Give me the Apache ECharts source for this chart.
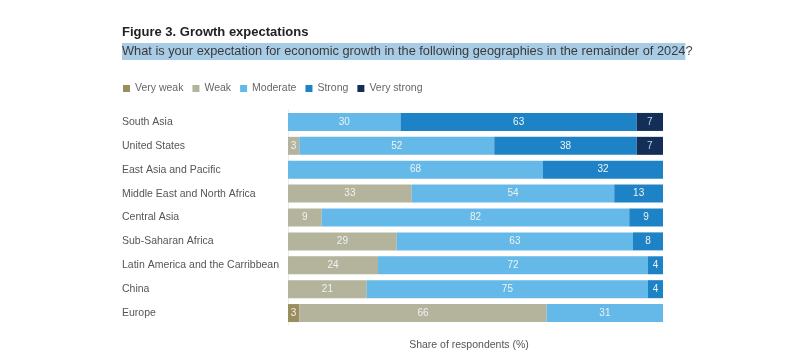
<!DOCTYPE html>
<html>
<head>
<meta charset="utf-8">
<script src="https://cdn.jsdelivr.net/npm/echarts@6/dist/echarts.min.js"></script>
<style>html,body{margin:0;padding:0;background:#fff;}#c{width:793px;height:356px;}</style>
</head>
<body>
<div id="c"></div>
<script>
const categories = ['South Asia','United States','East Asia and Pacific','Middle East and North Africa','Central Asia','Sub-Saharan Africa','Latin America and the Carribbean','China','Europe'];
const seriesNames = ['Very weak','Weak','Moderate','Strong','Very strong'];
const veryWeak = [0,0,0,0,0,0,0,0,3];
const weak = [0,3,0,33,9,29,24,21,66];
const moderate = [30,52,68,54,82,63,72,75,31];
const strong = [63,38,32,13,9,8,4,4,0];
const veryStrong = [7,7,0,0,0,0,0,0,0];
const colors = ['#9a8f5c','#b4b39c','#64b9e8','#1e83c6','#142f57'];

const values = [veryWeak, weak, moderate, strong, veryStrong];
const font = 'Liberation Sans, Arial, Helvetica, sans-serif';
const chart = echarts.init(document.getElementById('c'));
chart.setOption({
  animation: false,
  textStyle: {fontFamily: font},
  title: {
    left: 117, top: 21,
    text: 'Figure 3. Growth expectations',
    textStyle: {fontSize: 13, fontWeight: 'bold', color: '#222', fontFamily: font},
    subtext: '{h|What is your expectation for economic growth in the following geographies in the remainder of 2024}?',
    itemGap: 4,
    subtextStyle: {
      fontSize: 12.8, color: '#444', fontFamily: font,
      rich: {h: {backgroundColor: '#a8cce6', fontSize: 12.8, color: '#3a3a3a', padding: [2, 0, 2, 0], fontFamily: font}}
    }
  },
  legend: {
    left: 118, top: 78,
    itemWidth: 7, itemHeight: 7, itemGap: 9,
    icon: 'rect',
    textStyle: {fontSize: 10.5, color: '#666', fontFamily: font, padding: [1,0,0,0]},
    data: seriesNames
  },
  grid: {left: 288, right: 130, top: 110, height: 221, containLabel: false},
  xAxis: {
    type: 'value', min: 0, max: 100,
    axisLabel: {show: false}, splitLine: {show: false}, axisTick: {show: false}, axisLine: {show: false},
    name: 'Share of respondents (%)', nameLocation: 'middle', nameGap: 15,
    nameTextStyle: {fontSize: 10.5, color: '#555', padding: [0, 13, 0, 0], fontFamily: font}
  },
  yAxis: {
    type: 'category', data: categories, inverse: true,
    axisTick: {show: false},
    axisLine: {show: true, lineStyle: {color: '#ececec', width: 1}},
    axisLabel: {align: 'left', margin: 166, fontSize: 10.5, color: '#555', fontFamily: font}
  },
  series: seriesNames.map((n, i) => ({
    name: n, type: 'bar', stack: 'total', barWidth: 18,
    itemStyle: {color: colors[i]},
    label: {show: true, position: 'inside', color: i === 4 ? '#c9d3e0' : '#eef3f3', fontSize: 10, fontFamily: font,
      formatter: p => p.value > 0 ? p.value : ''},
    data: values[i].map(v => v > 0 ? v : null)
  }))
});
</script>
</body>
</html>
